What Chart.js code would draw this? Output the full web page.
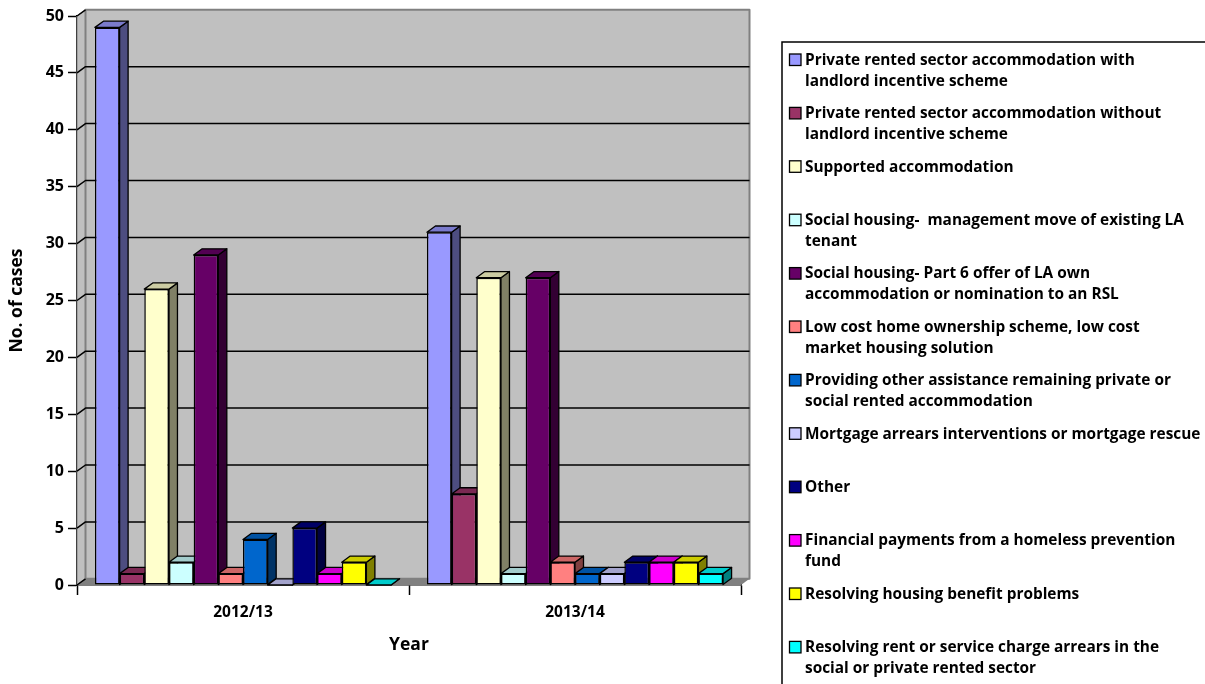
<!DOCTYPE html>
<html>
<head>
<meta charset="utf-8">
<style>html,body{margin:0;padding:0;background:#fff;overflow:hidden}canvas{display:block}</style>
<script src="https://cdn.jsdelivr.net/npm/chart.js@4"></script>
</head>
<body>
<div style="width:1205px;height:684px"><canvas id="c" width="1205" height="684"></canvas></div>
<script>
const categories = ['2012/13', '2013/14'];
const yearAxisTitle = 'Year';
const casesAxisTitle = 'No. of cases';

const privateWithIncentive = [49, 31];
const privateWithoutIncentive = [1, 8];
const supportedAccommodation = [26, 27];
const managementMove = [2, 1];
const part6Offer = [29, 27];
const lowCostOwnership = [1, 2];
const otherAssistance = [4, 1];
const mortgageArrears = [0, 1];
const other = [5, 2];
const financialPayments = [1, 2];
const housingBenefit = [2, 2];
const rentArrears = [0, 1];

const seriesValues = [privateWithIncentive, privateWithoutIncentive, supportedAccommodation, managementMove,
  part6Offer, lowCostOwnership, otherAssistance, mortgageArrears, other, financialPayments, housingBenefit, rentArrears];

const seriesLabels = [
  ['Private rented sector accommodation with', 'landlord incentive scheme'],
  ['Private rented sector accommodation without', 'landlord incentive scheme'],
  ['Supported accommodation'],
  ['Social housing-  management move of existing LA', 'tenant'],
  ['Social housing- Part 6 offer of LA own', 'accommodation or nomination to an RSL'],
  ['Low cost home ownership scheme, low cost', 'market housing solution'],
  ['Providing other assistance remaining private or', 'social rented accommodation'],
  ['Mortgage arrears interventions or mortgage rescue'],
  ['Other'],
  ['Financial payments from a homeless prevention', 'fund'],
  ['Resolving housing benefit problems'],
  ['Resolving rent or service charge arrears in the', 'social or private rented sector']
];
const seriesColors = ['#9999FF', '#993366', '#FFFFCC', '#CCFFFF', '#660066', '#FF8080',
  '#0066CC', '#CCCCFF', '#000080', '#FF00FF', '#FFFF00', '#00FFFF'];

const DEPTH_X = 8.5, DEPTH_Y = 6.2;
const FONT = '"Open Sans", Lato, sans-serif';

function shade(hex, f) {
  const n = parseInt(hex.slice(1), 16);
  const r = Math.round(((n >> 16) & 255) * f), g = Math.round(((n >> 8) & 255) * f), b = Math.round((n & 255) * f);
  return `rgb(${r},${g},${b})`;
}
function poly(ctx, pts, fill, stroke, lw) {
  ctx.beginPath();
  pts.forEach((p, i) => i ? ctx.lineTo(p[0], p[1]) : ctx.moveTo(p[0], p[1]));
  ctx.closePath();
  if (fill) { ctx.fillStyle = fill; ctx.fill(); }
  if (stroke) { ctx.strokeStyle = stroke; ctx.lineWidth = lw; ctx.lineJoin = 'round'; ctx.stroke(); }
}

const wallsPlugin = {
  id: 'walls',
  beforeDatasetsDraw(chart) {
    const { ctx, chartArea: a, scales: { y } } = chart;
    const dx = DEPTH_X, dy = DEPTH_Y;
    ctx.save();
    poly(ctx, [[a.left, a.top], [a.left + dx, a.top - dy], [a.left + dx, a.bottom - dy], [a.left, a.bottom]], '#C0C0C0', '#808080', 1);
    poly(ctx, [[a.left + dx, a.top - dy], [a.right + dx, a.top - dy], [a.right + dx, a.bottom - dy], [a.left + dx, a.bottom - dy]], '#C0C0C0', '#808080', 2);
    poly(ctx, [[a.left, a.bottom], [a.left + dx, a.bottom - dy], [a.right + dx, a.bottom - dy], [a.right, a.bottom]], '#808080', null);
    y.ticks.forEach(t => {
      const py = y.getPixelForValue(t.value);
      ctx.strokeStyle = '#000'; ctx.lineWidth = 1.5;
      ctx.beginPath();
      ctx.moveTo(a.left, py); ctx.lineTo(a.left + dx, py - dy);
      if (t.value > 0 && t.value < 50) ctx.lineTo(a.right + dx, py - dy);
      ctx.stroke();
    });
    ctx.restore();
  }
};

const bars3dPlugin = {
  id: 'bars3d',
  beforeDatasetDraw() { return false; },
  afterDatasetsDraw(chart) {
    const { ctx } = chart;
    const dx = DEPTH_X, dy = DEPTH_Y;
    ctx.save();
    chart.data.datasets.forEach((ds, i) => {
      chart.getDatasetMeta(i).data.forEach(el => {
        const l = el.x - el.width / 2, r = el.x + el.width / 2, t = el.y, b = el.base;
        const c = ds.backgroundColor;
        poly(ctx, [[r, t], [r + dx, t - dy], [r + dx, b - dy], [r, b]], shade(c, 0.5), '#000', 1.3);
        poly(ctx, [[l, t], [l + dx, t - dy], [r + dx, t - dy], [r, t]], shade(c, 0.8), '#000', 1.3);
        el.draw(ctx);
      });
    });
    ctx.restore();
  }
};

const legendBoxPlugin = {
  id: 'legendBox',
  afterDraw(chart) {
    const { ctx } = chart;
    const left = 782, top = 42, firstY = 60.5, rowStep = 53.4, lineStep = 21;
    ctx.save();
    ctx.strokeStyle = '#000'; ctx.lineWidth = 1.5;
    ctx.beginPath();
    ctx.moveTo(left, 684); ctx.lineTo(left, top); ctx.lineTo(1205, top);
    ctx.stroke();
    ctx.font = 'bold 15.4px ' + FONT;
    ctx.textBaseline = 'middle';
    ctx.textAlign = 'left';
    chart.data.datasets.forEach((ds, i) => {
      const y = firstY + i * rowStep;
      ctx.fillStyle = ds.backgroundColor;
      ctx.strokeStyle = '#000'; ctx.lineWidth = 1.3;
      ctx.fillRect(789.5, y - 6.5, 11.5, 11.5);
      ctx.strokeRect(789.5, y - 6.5, 11.5, 11.5);
      ctx.fillStyle = '#000';
      seriesLabels[i].forEach((line, k) => ctx.fillText(line, 805, y + k * lineStep));
    });
    ctx.restore();
  }
};

new Chart(document.getElementById('c'), {
  type: 'bar',
  data: {
    labels: categories,
    datasets: seriesValues.map((values, i) => ({
      label: seriesLabels[i].join(' '),
      data: values,
      backgroundColor: seriesColors[i],
      borderColor: '#000',
      borderWidth: 1.5,
      borderSkipped: false,
      categoryPercentage: 0.892,
      barPercentage: 1
    }))
  },
  plugins: [wallsPlugin, bars3dPlugin, legendBoxPlugin],
  options: {
    responsive: false,
    animation: false,
    layout: { padding: { left: 7, top: 16, right: 464, bottom: 28 } },
    plugins: { legend: { display: false }, tooltip: { enabled: false } },
    scales: {
      x: {
        grid: { offset: true, drawOnChartArea: false, tickLength: 10, tickColor: '#000', tickWidth: 1.5 },
        border: { color: '#000', width: 1.5 },
        ticks: { color: '#000', font: { family: FONT, size: 15.5, weight: 'bold' }, padding: 8, maxRotation: 0 },
        title: { display: true, text: yearAxisTitle, color: '#000', font: { family: FONT, size: 17.5, weight: 'bold' }, padding: 0 },
        afterFit(s) { s.height = 71; }
      },
      y: {
        min: 0, max: 50,
        grid: { drawOnChartArea: false, tickLength: 9, tickColor: '#000', tickWidth: 1.5 },
        border: { color: '#000', width: 1.5 },
        ticks: { stepSize: 5, color: '#000', font: { family: FONT, size: 16, weight: 'bold' }, padding: 4 },
        title: { display: true, text: casesAxisTitle, color: '#000', font: { family: FONT, size: 17.5, weight: 'bold' }, padding: 0 },
        afterFit(s) { s.width = 70; }
      }
    }
  }
});
</script>
</body>
</html>
